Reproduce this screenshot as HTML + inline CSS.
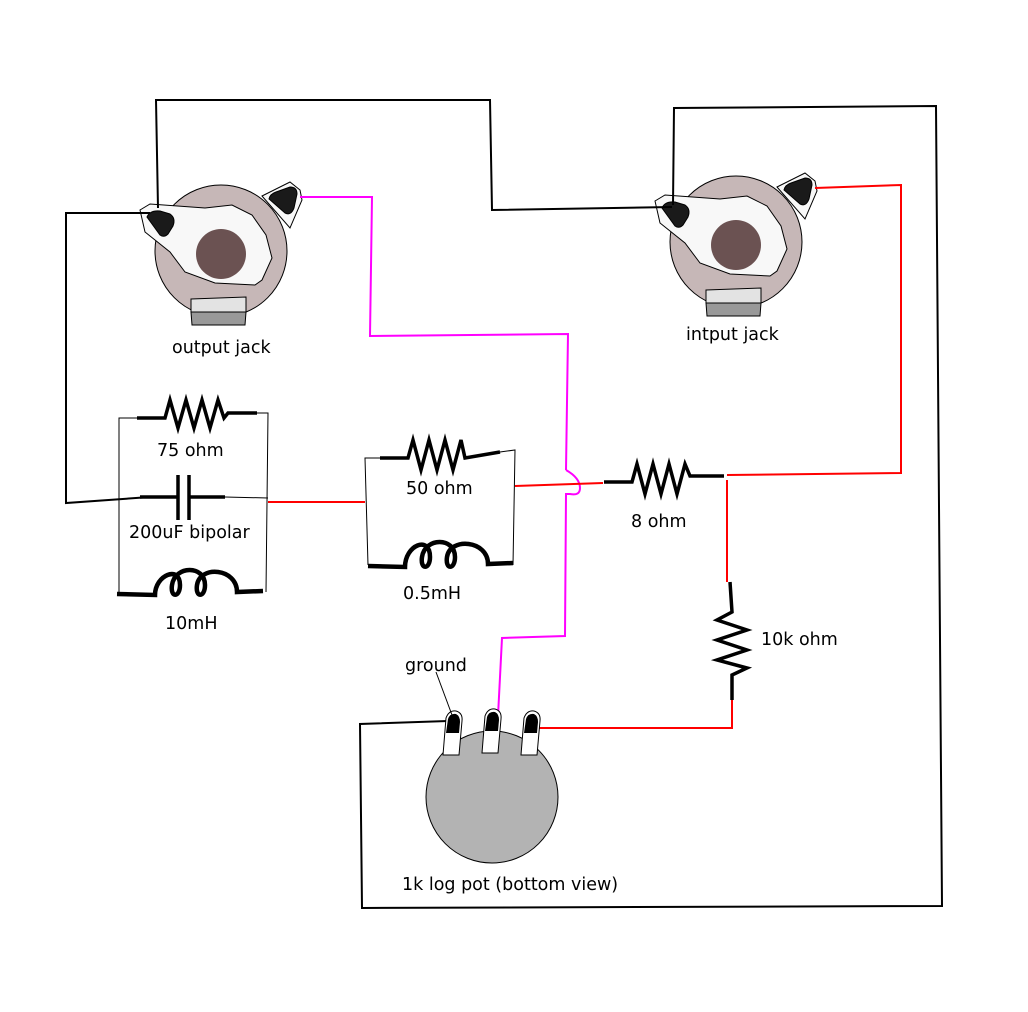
<!DOCTYPE html>
<html><head><style>html,body{margin:0;padding:0;background:#fff}svg{display:block}text{font-family:"DejaVu Sans","Liberation Sans",sans-serif;font-size:17.5px;fill:#000}</style></head>
<body>
<svg width="1028" height="1012" viewBox="0 0 1028 1012" xmlns="http://www.w3.org/2000/svg">
<defs>
<g id="jack">
<circle cx="221" cy="251" r="66" fill="#c6b7b7" stroke="#000" stroke-width="1"/>
<path d="M140,210 L150,204 L205,208 L232,205 L252,215 L266,235 L272,258 L262,280 L255,285 L215,283 L185,272 L170,252 L145,232 Z" fill="#f8f8f8" stroke="#000" stroke-width="1"/>
<path d="M147,217 Q150,210 160,211 L170,214 Q176,218 173,226 L168,234 Q164,238 160,235 Z" fill="#1a1a1a" stroke="#000"/>
<path d="M262,196 L290,182 L300,190 L302,200 L290,228 Z" fill="#f8f8f8" stroke="#000" stroke-width="1"/>
<path d="M269,199 Q270,194 276,192 L290,187 Q297,187 297,194 L294,208 Q291,216 285,213 Z" fill="#1a1a1a" stroke="#000"/>
<circle cx="221" cy="254" r="25" fill="#6b5252"/>
<path d="M191,299 L246,297 L246,312 L191,312 Z" fill="#e3e3e3" stroke="#000" stroke-width="1"/>
<path d="M191,312 L246,312 L245,325 L192,325 Z" fill="#999" stroke="#000" stroke-width="1"/>
</g>
<g id="pin">
<path d="M-10,42 L-7,5 Q-4,-3 3,-2 Q10,0 9,8 L6,42 Z" fill="#fff" stroke="#000" stroke-width="1"/>
<path d="M-7,20 L-5,6 Q-3,0 3,1 Q7,3 7,9 L6,20 Z" fill="#000"/>
</g>
</defs>
<use href="#jack"/>
<use href="#jack" transform="translate(515,-9)"/>
<g fill="none" stroke="#000" stroke-width="2">
<polyline points="158,208 156,100 490,100 492,210 672,207"/>
<polyline points="150,213 66,213 66,503 150,497"/>
<polyline points="673,205 674,108 936,106 942,906 362,908 360,724 448,721"/>
</g>
<polyline points="300,197 372,197 370,336 568,334 566,470" fill="none" stroke="#f0f" stroke-width="2"/>
<path d="M566,470 Q580,478 580,488 Q580,496 570,494 L566,494 L565,636 L502,638 L498,716" fill="none" stroke="#f0f" stroke-width="2"/>
<g fill="none" stroke="#f00" stroke-width="2">
<polyline points="815,188 901,185 901,473 727,475"/>
<polyline points="727,480 727,582"/>
<polyline points="732,700 732,728 537,728"/>
<polyline points="268,502 365,502"/>
<polyline points="515,486 603,483"/>
</g>
<g fill="none" stroke="#000" stroke-width="1">
<polyline points="137,418 119,418 119,592"/>
<polyline points="257,413 268,413 266,592"/>
<polyline points="225,497 268,498"/>
<polyline points="380,458 365,458 368,565"/>
<polyline points="500,452 515,450 513,565"/>
</g>
<g fill="none" stroke="#000" stroke-width="3.5">
<polyline points="137,418 165,418 170,400 178,428 186,400 194,428 202,400 210,428 218,400 224,418 228,413 257,413"/>
<polyline points="380,458 408,458 413,440 421,470 429,440 437,470 445,440 453,470 461,440 465,458 500,452"/>
<polyline points="604,482 632,482 637,464 645,494 653,464 661,494 669,464 677,494 685,464 690,476 724,476"/>
<polyline points="730,582 732,612 717,620 747,630 717,640 747,650 717,660 747,668 732,675 732,700"/>
<polyline points="140,497 178,497"/>
<polyline points="190,497 225,497"/>
<line x1="178" y1="475" x2="178" y2="520"/>
<line x1="189" y1="475" x2="189" y2="520"/>
</g>
<g fill="none" stroke="#000" stroke-width="4.5">
<path d="M117,594 L155,595 C155,575 180,565 180,585 C180,598 170,598 172,585 C175,565 205,565 205,585 C205,598 195,598 197,585 C200,565 237,568 237,592 L263,591"/>
<path d="M368,566 L405,567 C405,545 430,535 430,557 C430,570 420,570 422,557 C425,537 455,537 455,557 C455,570 445,570 447,557 C450,537 488,540 488,564 L513,563"/>
</g>
<circle cx="492" cy="797" r="66" fill="#b3b3b3" stroke="#000" stroke-width="1"/>
<use href="#pin" transform="translate(453,713)"/>
<use href="#pin" transform="translate(492,711)"/>
<use href="#pin" transform="translate(531,713)"/>
<line x1="436" y1="672" x2="452" y2="715" stroke="#000" stroke-width="1"/>
<text x="172" y="353">output jack</text>
<text x="686" y="340">intput jack</text>
<text x="157" y="456">75 ohm</text>
<text x="129" y="538">200uF bipolar</text>
<text x="165" y="629">10mH</text>
<text x="406" y="494">50 ohm</text>
<text x="403" y="599">0.5mH</text>
<text x="631" y="527">8 ohm</text>
<text x="761" y="645">10k ohm</text>
<text x="405" y="671">ground</text>
<text x="402" y="890">1k log pot (bottom view)</text>
</svg>
</body></html>
